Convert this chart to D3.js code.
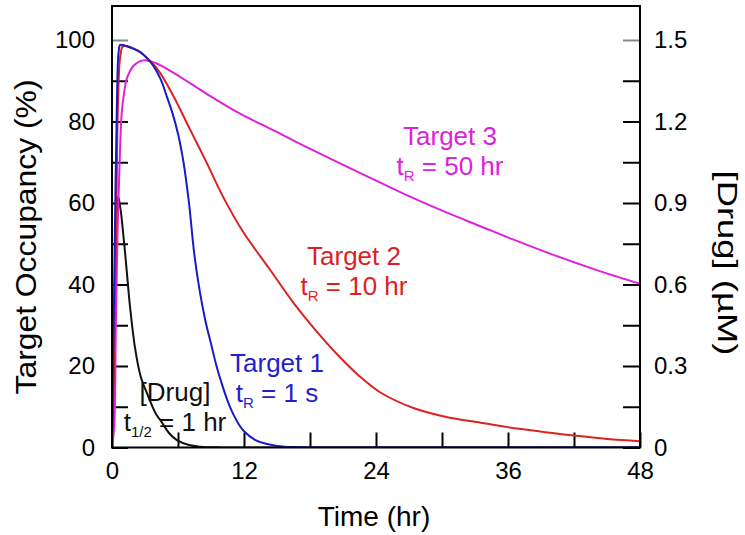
<!DOCTYPE html>
<html><head><meta charset="utf-8">
<script src="https://cdn.jsdelivr.net/npm/d3@7"></script>
<style>
body{margin:0;background:#fff;}
text{font-family:"Liberation Sans",Arial,Helvetica,sans-serif;}
</style></head>
<body><svg id="c" width="745" height="535"></svg>
<script>
// ---- data ----
const xTicks = [0, 12, 24, 36, 48];
const xMinorTicks = [6, 18, 30, 42];
const yTicks = [0, 20, 40, 60, 80, 100];
const yMinorTicks = [10, 30, 50, 70, 90];
const y2Ticks = [0, 0.3, 0.6, 0.9, 1.2, 1.5];
const y2MinorTicks = [0.15, 0.45, 0.75, 1.05, 1.35];

// [Drug] in µM (right axis)
const drugT = [0, 0.15, 0.3, 0.45, 0.57, 0.8, 1.0, 1.2, 1.4, 1.64, 2.09, 2.6, 3.3, 4.0, 4.5, 5.2, 5.9, 7, 8, 10, 12, 48];
const drugC = [0, 0.2, 0.6, 0.87, 0.924, 0.87, 0.795, 0.7125, 0.6225, 0.5175, 0.3675, 0.2625, 0.1875, 0.123, 0.0945, 0.0525, 0.027, 0.009, 0.003, 0.0004, 0, 0];

// Target occupancy in % (left axis)
const t1T = [0, 0.15, 0.3, 0.45, 0.6, 0.75, 1.2, 1.8, 2.55, 3.2, 3.75, 4.4, 5, 5.5, 6, 6.5, 7, 7.5, 8, 8.5, 9, 9.5, 10, 10.5, 11, 11.5, 12, 13, 14, 15, 16.5, 20, 48];
const t1V = [0, 30, 60, 85, 97, 98.8, 98.6, 98, 97.1, 95.5, 93.7, 90.5, 86, 82, 77, 70, 60, 47, 38, 31, 25.5, 20, 15.5, 11.5, 8.3, 5.8, 4, 1.9, 0.9, 0.4, 0.1, 0, 0];

const t2T = [0, 0.2, 0.4, 0.55, 0.75, 1.0, 1.5, 2.55, 3.5, 4.36, 5.57, 7.1, 8.6, 10.1, 11.9, 14.4, 16.5, 18.6, 20.7, 22.5, 24.4, 27.4, 30.4, 33.5, 36, 42, 45, 48];
const t2V = [0, 25, 60, 85, 96, 98.5, 98.4, 97, 94.8, 92, 86.3, 78, 69.9, 61.5, 53, 43.5, 35.5, 28.5, 22.2, 17.5, 13.5, 9.7, 7.5, 6.1, 5.0, 2.95, 2.1, 1.55];

const t3T = [0, 0.2, 0.35, 0.5, 0.73, 0.88, 1.1, 1.33, 2, 2.85, 4, 5.57, 8.6, 11.6, 14.7, 17.1, 21.3, 24.4, 27.4, 30.4, 33.5, 36.5, 40, 44, 48];
const t3V = [0, 5, 30, 52, 73, 82, 87, 90.4, 93.8, 95, 94.3, 92, 86.8, 82, 77.8, 74.5, 69, 65, 61.2, 57.7, 54.3, 51, 47.4, 43.6, 40.2];

// ---- layout ----
const svg = d3.select("#c");
const L = 112, R = 640, T = 6, B = 447.5;
const x = d3.scaleLinear().domain([0, 48]).range([L, R]);
const y = d3.scaleLinear().domain([0, 100]).range([B, 40]);
const y2 = d3.scaleLinear().domain([0, 1.5]).range([B, 40]);

const tickFont = 24;

function styleAxis(g){
  g.select(".domain").remove();
  g.selectAll(".tick line").attr("stroke","#000").attr("stroke-width",2);
  g.selectAll(".tick text").attr("font-size",tickFont).attr("fill","#000")
   .style("font-family",'"Liberation Sans",Arial,sans-serif');
}

// bottom axis
svg.append("g").attr("transform",`translate(0,${B})`)
  .call(d3.axisBottom(x).tickValues(xTicks).tickSize(-15).tickPadding(14).tickFormat(d3.format("d")))
  .call(styleAxis);
svg.append("g").attr("transform",`translate(0,${B})`)
  .call(d3.axisBottom(x).tickValues(xMinorTicks).tickSize(-15).tickFormat(""))
  .call(styleAxis);
// left axis
const gl = svg.append("g").attr("transform",`translate(${L},0)`)
  .call(d3.axisLeft(y).tickValues(yTicks).tickSize(-16).tickPadding(17).tickFormat(d3.format("d")))
  .call(styleAxis);
svg.append("g").attr("transform",`translate(${L},0)`)
  .call(d3.axisLeft(y).tickValues(yMinorTicks).tickSize(-16).tickFormat(""))
  .call(styleAxis);
gl.selectAll(".tick").filter(d=>d===100).select("line").attr("stroke","#888");
// right axis
const gr = svg.append("g").attr("transform",`translate(${R},0)`)
  .call(d3.axisRight(y2).tickValues(y2Ticks).tickSize(-17).tickPadding(14).tickFormat(d=>d===0?"0":d3.format(".1f")(d)))
  .call(styleAxis);
svg.append("g").attr("transform",`translate(${R},0)`)
  .call(d3.axisRight(y2).tickValues(y2MinorTicks).tickSize(-17).tickFormat(""))
  .call(styleAxis);
gr.selectAll(".tick").filter(d=>d===1.5).select("line").attr("stroke","#888");

// curves
svg.append("clipPath").attr("id","pc").append("rect")
  .attr("x",L).attr("y",T).attr("width",R-L).attr("height",B-T);
const plot = svg.append("g").attr("clip-path","url(#pc)");
const line = d3.line().curve(d3.curveCatmullRom.alpha(0.5));
function draw(ts, vs, sc, color){
  plot.append("path").attr("d", line(ts.map((t,i)=>[x(t), sc(vs[i])])))
    .attr("fill","none").attr("stroke",color).attr("stroke-width",2);
}
draw(drugT, drugC, y2, "#111111");
draw(t3T, t3V, y, "#dd22dd");
draw(t2T, t2V, y, "#dd2222");
draw(t1T, t1V, y, "#1a1ac8");

// frame
svg.append("path").attr("d",`M${L},${B}V${T}H${R}V${B}Z`)
  .attr("fill","none").attr("stroke","#000").attr("stroke-width",2);

// axis titles
svg.append("text").attr("x",374).attr("y",526).attr("text-anchor","middle")
  .attr("font-size",28).text("Time (hr)");
svg.append("text").attr("transform","translate(36,237) rotate(-90)").attr("text-anchor","middle")
  .attr("font-size",29).attr("textLength",315).attr("lengthAdjust","spacingAndGlyphs")
  .text("Target Occupancy (%)");
svg.append("text").attr("transform","translate(718,263) rotate(90)").attr("text-anchor","middle")
  .attr("font-size",27).attr("textLength",185).attr("lengthAdjust","spacingAndGlyphs")
  .text("[Drug] (\u00B5M)");

// annotations
const annFont = 26, subFont = 15;
function ann(cx, by, color, l1, sub, rest){
  svg.append("text").attr("x",cx).attr("y",by).attr("text-anchor","middle")
    .attr("font-size",annFont).attr("fill",color).text(l1);
  const t = svg.append("text").attr("x",cx).attr("y",by+30).attr("text-anchor","middle")
    .attr("font-size",annFont).attr("fill",color);
  t.append("tspan").text("t");
  t.append("tspan").attr("font-size",subFont).attr("dy",6).text(sub);
  t.append("tspan").attr("dy",-6).text(rest);
}
ann(450, 145, "#dd22dd", "Target 3", "R", " = 50 hr");
ann(354, 265, "#dd1f1f", "Target 2", "R", " = 10 hr");
ann(277, 372, "#1f1fcc", "Target 1", "R", " = 1 s");
ann(175, 401, "#111111", "[Drug]", "1/2", " = 1 hr");
</script></body></html>
